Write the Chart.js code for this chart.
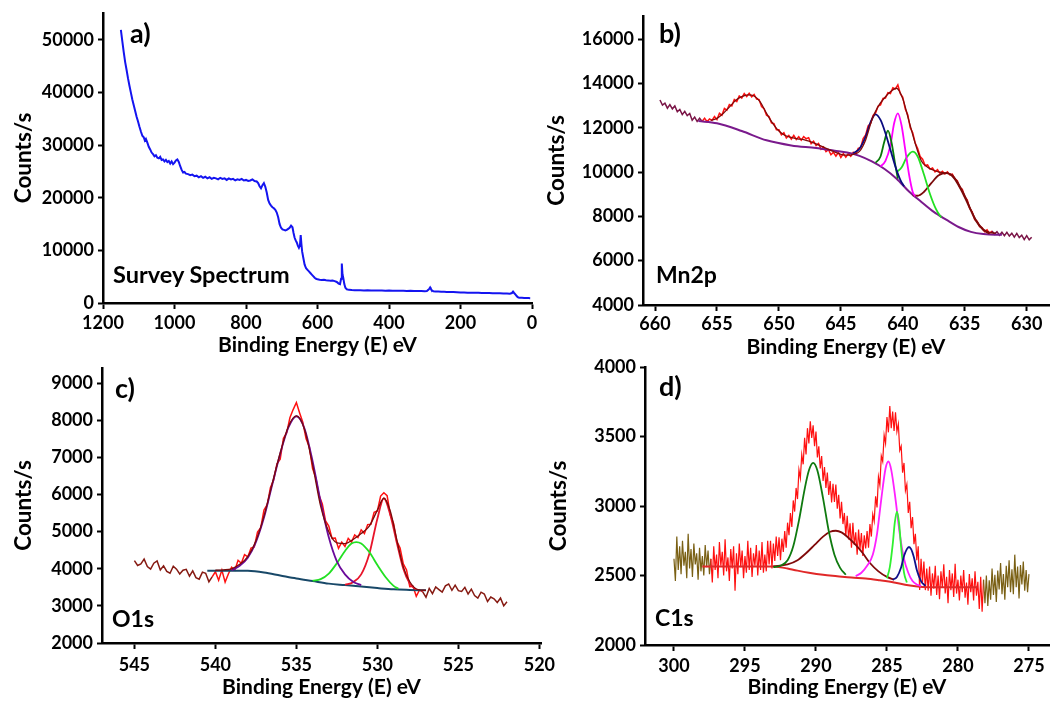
<!DOCTYPE html>
<html>
<head>
<meta charset="utf-8">
<title>XPS spectra</title>
<script src="https://cdn.jsdelivr.net/npm/chart.js@4.4.1/dist/chart.umd.min.js"></script>
<style>
  html, body { margin: 0; padding: 0; background: #ffffff; }
  #wrap { position: relative; width: 1051px; height: 702px; overflow: hidden; background: #ffffff; }
  #wrap canvas { position: absolute; left: 0; top: 0; }
  .lbl { position: absolute; font-family: Lato, "Open Sans", sans-serif; font-weight: 700;
         line-height: 1; color: #000; white-space: nowrap; }
</style>
</head>
<body>
<div id="wrap">
  <canvas id="panelA" width="1051" height="702"></canvas>
  <canvas id="panelB" width="1051" height="702"></canvas>
  <canvas id="panelC" width="1051" height="702"></canvas>
  <canvas id="panelD" width="1051" height="702"></canvas>

  <div class="lbl" style="left:130px;top:19px;font-size:27px">a)</div>
  <div class="lbl" style="left:113px;top:263px;font-size:23.5px">Survey Spectrum</div>
  <div class="lbl" style="left:659px;top:19px;font-size:27px">b)</div>
  <div class="lbl" style="left:656px;top:263px;font-size:23px">Mn2p</div>
  <div class="lbl" style="left:115px;top:374px;font-size:27px">c)</div>
  <div class="lbl" style="left:112px;top:607px;font-size:23px">O1s</div>
  <div class="lbl" style="left:659px;top:372px;font-size:27px">d)</div>
  <div class="lbl" style="left:655px;top:606px;font-size:23px">C1s</div>
</div>

<script>
// ---------------- a) survey spectrum ----------------
const surveyEnergyTicks = [0, 200, 400, 600, 800, 1000, 1200];
const surveyCountTicks  = [0, 10000, 20000, 30000, 40000, 50000];
const surveyEnergy = [
  1150,1146,1142,1138,1134,1130,1126,1122,1118,1114,1110,1106,1102,1098,1094,1090,1086,1083,1080,1076,
  1072,1068,1064,1060,1056,1052,1048,1044,1040,1036,1032,1028,1024,1020,1016,1012,1008,1004,1000,996,
  992,988,984,980,976,972,968,962,956,950,944,938,932,926,920,914,908,902,896,890,
  884,878,872,866,860,854,848,842,836,830,824,818,812,806,800,794,788,782,776,770,
  766,762,758,754,750,746,742,738,734,730,726,722,718,714,710,706,702,698,694,690,
  686,682,678,674,670,667,664,661,658,655,652,649,647,645,643,640,636,632,628,624,
  620,616,612,608,604,600,594,588,582,576,570,564,558,552,546,541,537,534,532,530,
  528,525,522,518,512,504,496,488,480,470,460,450,440,430,420,410,400,390,380,370,
  360,350,340,330,320,310,300,294,290,287,285,283,280,276,270,262,254,246,238,230,
  220,210,200,190,180,170,160,150,140,130,120,110,100,90,80,70,62,56,53,50,
  46,42,38,34,28,22,16,10,5
];
const surveyCounts = [
  51900,49800,47700,45800,44300,42700,41300,40000,38700,37600,36500,35400,34500,33500,32600,31800,31500,30900,31200,30500,
  29700,29200,28600,28300,27900,28100,27600,27500,27800,27200,27300,26900,27200,26800,27000,26500,26900,26400,26700,27100,
  27300,26800,26000,25300,24800,24900,24600,24500,24300,24400,24100,24200,23900,24100,23800,24000,23700,23900,23600,23800,
  23700,23500,23800,23600,23700,23400,23700,23500,23600,23300,23500,23400,23600,23300,23400,23200,23300,23500,23200,23100,
  22800,22200,21800,22400,22800,22100,21000,19600,18900,18500,18200,18000,17700,17200,16300,15000,14300,14000,13900,13800,
  13900,14100,14300,14700,14400,13300,12400,11900,11500,10900,10500,11000,12900,11200,9800,8700,7300,6600,6300,6000,
  5700,5400,5100,4800,4600,4500,4420,4380,4400,4320,4300,4250,4280,4150,4000,3700,3600,4600,7500,5400,
  4800,3600,2900,2600,2500,2460,2440,2420,2440,2400,2410,2380,2390,2360,2380,2340,2360,2330,2340,2310,
  2330,2300,2310,2280,2270,2260,2250,2270,2500,2750,2950,2700,2380,2250,2200,2180,2150,2130,2110,2100,
  2080,2040,2000,1990,1970,1960,1940,1930,1910,1900,1880,1870,1850,1830,1810,1800,1780,1900,2150,1900,
  1600,1250,1050,1000,980,960,950,940,920
];

// ---------------- b) Mn 2p ----------------
const mnEnergyTicks = [630, 635, 640, 645, 650, 655, 660];
const mnCountTicks  = [4000, 6000, 8000, 10000, 12000, 14000, 16000];
// raw counts every 0.2 eV starting at 659.6 eV
const mnStart = 659.6, mnStep = 0.2;
const mnCounts = [
  13250,13020,13110,12880,13040,12850,12980,12720,12820,12590,
  12740,12550,12640,12340,12480,12280,12430,12280,12430,12270,
  12390,12330,12500,12370,12650,12560,12870,12790,13040,12980,
  13270,13180,13430,13340,13540,13410,13550,13390,13500,13290,
  13270,12950,12860,12560,12500,12220,12180,11910,11910,11680,
  11770,11540,11650,11480,11650,11470,11590,11440,11600,11500,
  11550,11280,11390,11190,11290,11030,11130,10920,11010,10780,
  10890,10720,10880,10660,10830,10670,10830,10710,10890,10820,
  11070,11110,11510,11670,12080,12190,12550,12660,12970,13030,
  13320,13340,13580,13540,13800,13750,13930,13530,13370,12840,
  12580,12000,11770,11310,11060,10700,10580,10290,10320,10130,
  10180,10010,10110,9940,10030,9910,10010,9870,9900,9690,
  9610,9300,9220,8890,8740,8360,8200,7860,7780,7530,
  7490,7310,7390,7230,7340,7190,7310,7150,7280,7130,
  7280,7110,7240,7060,7230,7040,7150,6950,7130,6940,
  7060
];
const mnEnvelopeE = [655.5,655,654.5,654,653.5,653,652.5,652,651.5,651,650.5,650,649.5,649,648.5,648,647,646,645,644.5,644,643.5,643,642.5,642,641.5,641,640.5,640,639.5,639,638.5,638,637.5,637,636.5,636,635.5,635,634.5,634,633.5,633,632.5];
const mnEnvelope  = [12330,12420,12640,12930,13230,13400,13480,13430,13150,12650,12200,11850,11650,11560,11500,11460,11270,11020,10800,10760,10800,10930,11450,12350,12950,13330,13620,13780,13300,12300,11300,10500,10220,10080,9990,9960,9870,9480,8950,8300,7760,7420,7280,7240];
const mnBackgroundE = [656.5,655,653,651,649,647,645.5,644.5,643.5,642.5,641.5,640.5,639.5,638.5,637.5,636.5,635.5,634.5,633.5,632.5,632];
const mnBackground  = [12300,12200,11850,11430,11200,11080,10960,10880,10730,10480,10150,9700,9120,8650,8200,7850,7520,7300,7200,7170,7170];
const mnPeak1E = [644,643.5,643,642.6,642.2,641.8,641.4,641,640.6,640.2,639.9];
const mnPeak1  = [10850,11050,11600,12250,12600,12350,11750,11000,10250,9650,9350];
const mnPeak2E = [642.2,641.8,641.5,641.2,640.9,640.6,640.4];
const mnPeak2  = [10420,10700,11350,11870,11300,10300,9700];
const mnPeak3E = [641.8,641.4,641,640.7,640.4,640.1,639.8,639.5,639.2,639];
const mnPeak3  = [10250,10500,11200,12200,12650,12100,11000,9900,9100,8900];
const mnPeak4E = [640.5,640.1,639.7,639.2,638.8,638.3,637.8,637.3,636.9];
const mnPeak4  = [10000,10200,10650,10920,10700,9900,9000,8300,7950];
const mnSatE = [639.2,638.8,638.3,637.7,637.1,636.5,635.9,635.3,634.7,634.1,633.5,633];
const mnSat  = [8950,8930,9100,9500,9850,9950,9750,9200,8500,7800,7380,7220];

// ---------------- c) O 1s ----------------
const oEnergyTicks = [520, 525, 530, 535, 540, 545];
const oCountTicks  = [2000, 3000, 4000, 5000, 6000, 7000, 8000, 9000];
// raw counts every 0.2 eV starting at 545.0 eV
const oStart = 545.0, oStep = 0.2;
const oCounts = [
  4220,4090,4130,4260,4060,3990,4150,4210,3970,4080,
  3930,3880,4070,3990,3860,3960,3985,3800,3945,3760,
  3720,3910,3880,3650,3780,3920,3690,3965,3640,3860,
  4040,3960,4230,4150,4380,4320,4560,4590,4990,5110,
  5580,5730,6190,6400,6830,6950,7520,7660,8070,8290,
  8480,8200,7940,7500,7280,6700,6450,5980,5750,5290,
  5150,4820,4830,4550,4720,4600,4820,4720,4910,4840,
  5050,4950,5190,5200,5520,5560,5960,6050,5970,5450,
  5220,4740,4560,4130,3970,3520,3530,3260,3430,3380,
  3230,3470,3330,3510,3440,3370,3540,3590,3420,3560,
  3410,3390,3500,3320,3450,3280,3210,3370,3320,3120,
  3240,3190,3090,3210,3000,3110
];
const oEnvelopeE = [540,539.5,539,538.5,538,537.5,537,536.5,536,535.5,535,534.5,534,533.5,533,532.5,532,531.5,531,530.5,530,529.6,529.2,528.8,528.4,528,527.5,527];
const oEnvelope  = [3960,3970,4000,4120,4330,4750,5420,6280,7120,7830,8120,7760,6800,5680,5000,4700,4680,4790,4950,5150,5580,5900,5550,4780,4050,3650,3440,3420];
const oBackgroundE = [540.5,539,538,537,536,535,534,533,532,531,530,529,528,527];
const oBackground  = [3950,3950,3945,3900,3820,3740,3670,3600,3560,3520,3480,3445,3430,3420];
const oPeak1E = [539,538.5,538,537.5,537,536.5,536,535.5,535,534.5,534,533.5,533,532.5,532,531.5,531];
const oPeak1  = [3960,4080,4300,4720,5380,6250,7100,7800,8110,7780,6900,5800,4850,4200,3850,3650,3560];
const oPeak2E = [534,533.5,533,532.5,532,531.6,531.3,531,530.5,530,529.5,529,528.7];
const oPeak2  = [3680,3720,3870,4150,4480,4680,4720,4680,4450,4100,3780,3540,3460];
const oPeak3E = [532,531.5,531,530.5,530,529.6,529.2,528.8,528.4,528,527.6];
const oPeak3  = [3570,3640,3850,4400,5350,5900,5450,4700,4000,3600,3440];

// ---------------- d) C 1s ----------------
const cEnergyTicks = [275, 280, 285, 290, 295, 300];
const cCountTicks  = [2000, 2500, 3000, 3500, 4000];
// raw counts every 0.1 eV starting at 300.0 eV
const cStart = 300.0, cStep = 0.1;
const cCounts = [
  2620,2460,2780,2540,2710,2510,2750,2570,2670,2480,
  2800,2550,2690,2490,2730,2580,2660,2470,2700,2530,
  2640,2500,2720,2560,2680,2510,2620,2450,2710,2540,
  2650,2480,2740,2570,2670,2500,2760,2530,2630,2460,
  2690,2550,2710,2390,2660,2510,2730,2560,2680,2480,
  2640,2520,2750,2540,2700,2490,2660,2570,2720,2500,
  2680,2540,2740,2520,2650,2530,2750,2580,2750,2550,
  2730,2605,2780,2640,2775,2610,2765,2670,2820,2700,
  2880,2790,2950,2850,3040,2960,3130,3050,3260,3200,
  3370,3300,3490,3370,3560,3450,3610,3490,3580,3430,
  3535,3350,3430,3270,3360,3180,3280,3130,3240,3080,
  3180,3025,3160,3030,3155,2980,3080,2910,3030,2870,
  2950,2785,2930,2760,2875,2700,2880,2720,2810,2650,
  2830,2690,2805,2640,2790,2695,2820,2700,2870,2780,
  2940,2890,3070,2990,3210,3150,3360,3320,3510,3450,
  3640,3530,3720,3560,3680,3540,3675,3535,3590,3400,
  3430,3240,3310,3110,3155,2950,3030,2840,2920,2725,
  2800,2610,2710,2395,2620,2450,2600,2395,2550,2390,
  2565,2355,2515,2405,2570,2360,2500,2330,2530,2410,
  2580,2370,2490,2300,2540,2395,2515,2345,2585,2370,
  2470,2320,2500,2380,2540,2340,2450,2290,2510,2380,
  2480,2320,2530,2355,2455,2260,2490,2240,2470,2300,
  2500,2280,2465,2325,2550,2360,2505,2310,2535,2400,
  2590,2365,2510,2325,2570,2415,2610,2380,2545,2365,
  2650,2415,2565,2335,2575,2435,2600,2390,2540,2380,
  2510
];
const cBackgroundE = [298,296,294,293,292.5,292,291.3,290.5,289.5,288.5,287.5,286.5,285.5,284.5,283.5,282.5,281.5,280,278.6];
const cBackground  = [2565,2565,2565,2565,2560,2550,2535,2520,2505,2495,2485,2478,2465,2450,2430,2418,2415,2415,2415];
const cPeak1E = [293,292.5,292,291.6,291.2,290.8,290.5,290.2,289.9,289.5,289.1,288.7,288.3,287.9];
const cPeak1  = [2560,2570,2610,2710,2895,3120,3255,3310,3255,3055,2820,2650,2555,2505];
const cPeak2E = [293,292,291.3,290.7,290.1,289.5,289,288.6,288.2,287.7,287.2,286.7,286.2,285.6,285,284.5];
const cPeak2  = [2565,2580,2610,2660,2720,2780,2815,2822,2810,2770,2720,2660,2590,2530,2490,2470];
const cPeak3E = [287.2,286.8,286.4,286,285.7,285.4,285.1,284.9,284.7,284.4,284.1,283.8,283.5,283.2,282.9,282.6];
const cPeak3  = [2495,2520,2570,2650,2800,3050,3270,3320,3260,3050,2800,2620,2520,2460,2435,2425];
const cPeak4E = [285,284.8,284.6,284.45,284.3,284.15,284,283.8,283.6];
const cPeak4  = [2480,2560,2720,2880,2960,2880,2700,2520,2450];
const cPeak5E = [284.6,284.3,284,283.8,283.6,283.45,283.3,283.1,282.9,282.6,282.3];
const cPeak5  = [2470,2490,2560,2640,2690,2705,2690,2630,2540,2460,2425];

// ---------------- helpers ----------------
const FONT = 'Lato';
const W = 1051, H = 702;

function pairs(es, cs) {
  return es.map((e, i) => ({ x: e, y: cs[i] }));
}
function sampled(start, step, cs) {
  return cs.map((c, i) => ({ x: +(start - step * i).toFixed(3), y: c }));
}
function fitLine(points, color, width, order) {
  return { data: points, borderColor: color, borderWidth: width, order: order,
           cubicInterpolationMode: 'monotone', pointRadius: 0, fill: false };
}
function rawLine(points, mainColor, tailColor, hi, lo, order, width) {
  return {
    data: points, borderColor: mainColor, borderWidth: width || 1.2, order: order,
    pointRadius: 0, fill: false, tension: 0,
    segment: {
      borderColor: c => (c.p0.parsed.x > hi || c.p1.parsed.x < lo) ? tailColor : mainColor
    }
  };
}
function fixedTicks(values) {
  return s => { s.ticks = values.map(v => ({ value: v })); };
}

function panel(id, p) {
  const [left, top, right, bottom] = p.area;
  const tickFont = { family: FONT, weight: 'bold', size: 18 };
  return new Chart(document.getElementById(id), {
    type: 'line',
    data: { datasets: p.datasets },
    options: {
      responsive: false,
      animation: false,
      events: [],
      layout: { padding: { left: 0, top: top, right: W - right, bottom: 0 } },
      plugins: { legend: { display: false }, tooltip: { enabled: false } },
      elements: { point: { radius: 0 } },
      scales: {
        x: {
          type: 'linear', reverse: true, min: p.x[0], max: p.x[1],
          afterBuildTicks: fixedTicks(p.xTicks),
          afterFit: s => { s.height = H - bottom; s.paddingLeft = 0; s.paddingRight = 0; },
          ticks: { autoSkip: false, maxRotation: 0, padding: p.xPad, color: '#000', font: tickFont,
                   callback: v => String(Math.round(v)) },
          grid: { drawOnChartArea: false, drawTicks: true, tickLength: 6, tickWidth: 2, tickColor: '#000' },
          border: { display: true, color: '#000', width: 2.5 },
          title: { display: true, text: 'Binding Energy (E) eV', color: '#000',
                   font: { family: FONT, weight: 'bold', size: 21 },
                   padding: { top: 0, bottom: p.xTitlePad } }
        },
        y: {
          type: 'linear', min: p.y[0], max: p.y[1],
          afterBuildTicks: fixedTicks(p.yTicks),
          afterFit: s => { s.width = left; s.paddingTop = 0; s.paddingBottom = 0; },
          ticks: { autoSkip: false, padding: 4, color: '#000', font: tickFont,
                   callback: v => String(Math.round(v)) },
          grid: { drawOnChartArea: false, drawTicks: true, tickLength: 5, tickWidth: 2, tickColor: '#000' },
          border: { display: true, color: '#000', width: 2.5 },
          title: { display: true, text: 'Counts/s', color: '#000',
                   font: { family: FONT, weight: 'bold', size: 22.5 },
                   padding: { top: p.yTitlePad, bottom: 0 } }
        }
      }
    }
  });
}

// ---------------- panels ----------------
panel('panelA', {
  area: [103, 13, 532, 303],
  x: [0, 1200], y: [0, 55130],
  xTicks: surveyEnergyTicks, yTicks: surveyCountTicks,
  xPad: 3, xTitlePad: 344, yTitlePad: 10,
  datasets: [
    { data: pairs(surveyEnergy, surveyCounts), borderColor: '#1414f0', borderWidth: 2,
      pointRadius: 0, fill: false, tension: 0 }
  ]
});

panel('panelB', {
  area: [643, 16, 1049, 305],
  x: [628.2, 660.97], y: [4000, 17040],
  xTicks: mnEnergyTicks, yTicks: mnCountTicks,
  xPad: 2, xTitlePad: 342, yTitlePad: 543,
  datasets: [
    rawLine(sampled(mnStart, mnStep, mnCounts), '#ff1010', '#7a1446', 656.2, 632.8, 10, 1.5),
    fitLine(pairs(mnBackgroundE, mnBackground), '#7a1a8c', 2, 6),
    fitLine(pairs(mnSatE, mnSat), '#7a0a0a', 1.8, 5),
    fitLine(pairs(mnPeak4E, mnPeak4), '#22e022', 1.8, 4),
    fitLine(pairs(mnPeak3E, mnPeak3), '#ff00ff', 1.8, 3),
    fitLine(pairs(mnPeak2E, mnPeak2), '#0a7a0a', 1.8, 2),
    fitLine(pairs(mnPeak1E, mnPeak1), '#0a0a80', 1.8, 1),
    fitLine(pairs(mnEnvelopeE, mnEnvelope), '#800a0a', 1.3, 0)
  ]
});

panel('panelC', {
  area: [102, 368, 541, 643],
  x: [519.9, 547.0], y: [2000, 9410],
  xTicks: oEnergyTicks, yTicks: oCountTicks,
  xPad: 5.5, xTitlePad: 2, yTitlePad: 10,
  datasets: [
    rawLine(sampled(oStart, oStep, oCounts), '#ff1010', '#861a12', 540.3, 527.1, 10, 1.5),
    fitLine(pairs(oBackgroundE, oBackground), '#184868', 2, 6),
    fitLine(pairs(oPeak3E, oPeak3), '#e8142a', 1.8, 4),
    fitLine(pairs(oPeak2E, oPeak2), '#22e022', 1.8, 3),
    fitLine(pairs(oPeak1E, oPeak1), '#6a0a9a', 1.8, 2),
    fitLine(pairs(oEnvelopeE, oEnvelope), '#7a0a0a', 1.3, 0)
  ]
});

panel('panelD', {
  area: [645, 367, 1049, 645],
  x: [273.59, 302.04], y: [2000, 4000],
  xTicks: cEnergyTicks, yTicks: cCountTicks,
  xPad: 4, xTitlePad: 2, yTitlePad: 545,
  datasets: [
    rawLine(sampled(cStart, cStep, cCounts), '#ff1010', '#7a6014', 297.4, 278.2, 10, 1.2),
    fitLine(pairs(cBackgroundE, cBackground), '#e02828', 2, 6),
    fitLine(pairs(cPeak2E, cPeak2), '#800a0a', 1.8, 5),
    fitLine(pairs(cPeak1E, cPeak1), '#0f7a0f', 1.8, 4),
    fitLine(pairs(cPeak3E, cPeak3), '#ff20ff', 1.8, 3),
    fitLine(pairs(cPeak4E, cPeak4), '#30f030', 1.8, 2),
    fitLine(pairs(cPeak5E, cPeak5), '#10108a', 1.8, 1)
  ]
});
</script>
</body>
</html>
